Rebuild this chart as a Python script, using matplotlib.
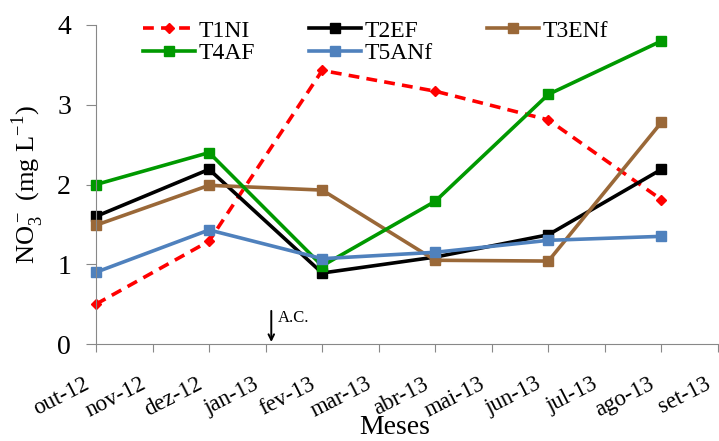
import numpy as np
import matplotlib
matplotlib.use("Agg")
import matplotlib.pyplot as plt
from matplotlib.transforms import ScaledTranslation

plt.rcParams['font.family'] = ['Liberation Serif', 'DejaVu Serif']
plt.rcParams['mathtext.fontset'] = 'custom'
plt.rcParams['mathtext.rm'] = 'Liberation Serif'

months = ["out-12", "nov-12", "dez-12", "jan-13", "fev-13", "mar-13",
          "abr-13", "mai-13", "jun-13", "jul-13", "ago-13", "set-13"]
sampled = ["out-12", "dez-12", "fev-13", "abr-13", "jun-13", "ago-13"]

t1ni = [0.50, 1.29, 3.43, 3.17, 2.81, 1.81]
t2ef = [1.60, 2.19, 0.89, 1.09, 1.37, 2.19]
t3enf = [1.49, 1.99, 1.93, 1.05, 1.04, 2.78]
t4af = [2.00, 2.40, 0.98, 1.79, 3.13, 3.80]
t5anf = [0.90, 1.43, 1.07, 1.15, 1.30, 1.35]

ac_month = 3.1  # application marker, slightly after jan-13

xs = [months.index(m) for m in sampled]

fig = plt.figure(figsize=(7.19, 4.41), dpi=100)
ax = fig.add_axes([96 / 719, 1 - 344 / 441, (718 - 96) / 719, (344 - 25) / 441])

lw = 2.6
l1, = ax.plot(xs, t1ni, color='#FF0000', ls=(0, (3, 2)), lw=lw, marker='D', ms=5, label='T1NI')
l2, = ax.plot(xs, t2ef, color='black', lw=lw, marker='s', ms=7, label='T2EF')
l3, = ax.plot(xs, t3enf, color='#9A6838', lw=lw, marker='s', ms=7, label='T3ENf')
l4, = ax.plot(xs, t4af, color='#009900', lw=lw, marker='s', ms=7, label='T4AF')
l5, = ax.plot(xs, t5anf, color='#4F81BD', lw=lw, marker='s', ms=7, label='T5ANf')

ax.set_xlim(0, 11)
ax.set_ylim(0, 4)
ax.set_xticks(range(len(months)))
ax.set_xticklabels(months, rotation=27, ha='right', va='center',
                   rotation_mode='anchor', fontsize=16.5)
ax.set_yticks([0, 1, 2, 3, 4])
ax.tick_params(axis='y', labelsize=20, direction='out', length=7, color='#888888', pad=11)
ax.tick_params(axis='x', direction='out', length=6, color='#888888', pad=22)
# nudge the slanted month labels left so the last one stays inside the figure
shift = ScaledTranslation(-6 / 72, 0, fig.dpi_scale_trans)
for lab in ax.get_xticklabels():
    lab.set_transform(lab.get_transform() + shift)

for s in ['top', 'right']:
    ax.spines[s].set_visible(False)
for s in ['left', 'bottom']:
    ax.spines[s].set_color('#888888')
for l in [l1, l2, l3, l4, l5]:
    l.set_clip_on(False)

ax.set_ylabel(r'NO$_3^-$ (mg L$^{-1}$)', fontsize=19, labelpad=8)
ax.set_xlabel('Meses', fontsize=20)
ax.xaxis.set_label_coords(0.48, -0.222)

ax.annotate('', xy=(ac_month, -0.01), xytext=(ac_month, 0.45),
            arrowprops=dict(arrowstyle='->', color='black', lw=1.4),
            annotation_clip=False)
ax.text(ac_month + 0.12, 0.32, 'A.C.', fontsize=12, va='center', ha='left')

ax.legend(handles=[l1, l4, l2, l5, l3], ncol=3, frameon=False, fontsize=17,
          loc='upper left', bbox_to_anchor=(0.06, 1.045), handlelength=2.2,
          handletextpad=0.15, columnspacing=2.3, labelspacing=0.05, borderaxespad=0)

fig.savefig('out.png', dpi=100)
